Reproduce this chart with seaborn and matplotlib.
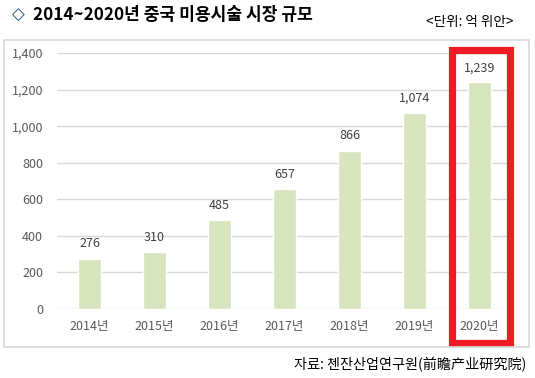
import numpy as np
import pandas as pd
import matplotlib
matplotlib.use("Agg")
import matplotlib.pyplot as plt
import matplotlib.transforms as mtransforms
from matplotlib.patches import Rectangle
import seaborn as sns

years = ["2014년", "2015년", "2016년", "2017년", "2018년", "2019년", "2020년"]
values = [276, 310, 485, 657, 866, 1074, 1239]
yticks = [0, 200, 400, 600, 800, 1000, 1200, 1400]

sns.set_style("white")
plt.rcParams["font.family"] = ["Noto Sans CJK KR", "DejaVu Sans"]

df = pd.DataFrame({"year": years, "value": values})

fig = plt.figure(figsize=(5.35, 3.78), dpi=100)
ax = fig.add_axes([57 / 535, 69 / 378, 455 / 535, 256 / 378])

sns.barplot(data=df, x="year", y="value", color="#d7e4bd", saturation=1,
            width=0.34, ax=ax, zorder=3)

ax.set_ylim(0, 1400)
ax.set_yticks(yticks)
ax.set_yticklabels([f"{v:,}" for v in yticks])
ax.yaxis.grid(True, color="#d9d9d9", linewidth=1)
ax.set_axisbelow(True)
ax.set_xlabel("")
ax.set_ylabel("")
for s in ax.spines.values():
    s.set_visible(False)
ax.tick_params(axis="both", length=0, colors="#595959", labelsize=9)
ax.tick_params(axis="y", pad=10)
ax.tick_params(axis="x", pad=8)

for i, v in enumerate(values):
    ax.text(i, v + 45, f"{v:,}", ha="center", va="bottom", fontsize=9, color="#404040")

# highlight box round the last year
trans = mtransforms.blended_transform_factory(ax.transData, ax.transAxes)
ax.add_patch(Rectangle((5.577, -0.133), 0.888, 1.145, transform=trans,
                       fill=False, edgecolor="#ed1c24", linewidth=5.2,
                       clip_on=False, zorder=5))

# outer frame of the chart
fig.patches.append(Rectangle((4 / 535, (378 - 347) / 378), 525 / 535, 307 / 378,
                             transform=fig.transFigure, fill=False,
                             edgecolor="#d9d9d9", linewidth=1.2))

fig.text(12 / 535, 1 - 15 / 378, "◇", fontsize=12, va="center", ha="left",
         color="#1f4e79", family=["DejaVu Sans"])
fig.text(33 / 535, 1 - 15 / 378, "2014~2020년 중국 미용시술 시장 규모", fontsize=12.3,
         fontweight="bold", va="center", ha="left", color="#000000")
fig.text(514 / 535, 1 - 22 / 378, "<단위: 억 위안>", fontsize=9.8, va="center",
         ha="right", color="#000000")
fig.text(526 / 535, 1 - 365 / 378, "자료: 첸잔산업연구원(前瞻产业研究院)", fontsize=10.2,
         va="center", ha="right", color="#000000",
         family=["Noto Sans CJK KR", "Noto Sans CJK SC", "DejaVu Sans"])

fig.savefig("out.png", dpi=100)
